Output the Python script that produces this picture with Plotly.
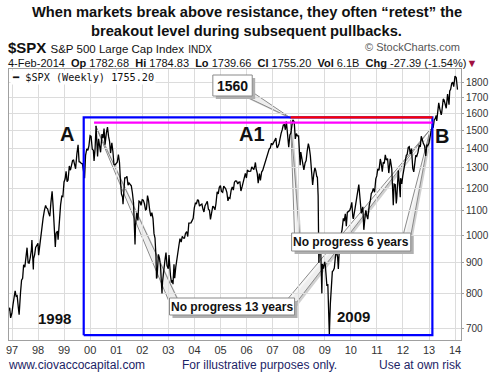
import plotly.graph_objects as go

# ---------------- data (weekly-ish closes) ----------------
dates = [
    "1996-11-22", "1996-11-29", "1996-12-13", "1996-12-31",
    "1997-01-15", "1997-01-31", "1997-02-14", "1997-02-28", "1997-03-14", "1997-03-31", "1997-04-11", "1997-04-30",
    "1997-05-15", "1997-05-30", "1997-06-13", "1997-06-30", "1997-07-15", "1997-07-31", "1997-08-15", "1997-08-29",
    "1997-09-15", "1997-09-30", "1997-10-07", "1997-10-27", "1997-10-31", "1997-11-14", "1997-11-28", "1997-12-15", "1997-12-31",
    "1998-01-09", "1998-01-30", "1998-02-13", "1998-02-27", "1998-03-13", "1998-03-31", "1998-04-17", "1998-04-30",
    "1998-05-15", "1998-05-29", "1998-06-15", "1998-06-30", "1998-07-17", "1998-07-31", "1998-08-14", "1998-08-31",
    "1998-09-11", "1998-09-30", "1998-10-09", "1998-10-30", "1998-11-13", "1998-11-30", "1998-12-15", "1998-12-31",
    "1999-01-15", "1999-01-29", "1999-02-12", "1999-02-26", "1999-03-15", "1999-03-31", "1999-04-16", "1999-04-30",
    "1999-05-14", "1999-05-28", "1999-06-11", "1999-06-30", "1999-07-16", "1999-07-30", "1999-08-13", "1999-08-31",
    "1999-09-15", "1999-09-30", "1999-10-15", "1999-10-29", "1999-11-15", "1999-11-30", "1999-12-15", "1999-12-31",
    "2000-01-14", "2000-01-31", "2000-02-15", "2000-02-25", "2000-03-10", "2000-03-24", "2000-04-14", "2000-04-28",
    "2000-05-12", "2000-05-26", "2000-06-15", "2000-06-30", "2000-07-14", "2000-07-28", "2000-08-15", "2000-08-31",
    "2000-09-15", "2000-09-29", "2000-10-13", "2000-10-31", "2000-11-15", "2000-11-30", "2000-12-15", "2000-12-29",
    "2001-01-15", "2001-01-31", "2001-02-15", "2001-02-28", "2001-03-15", "2001-03-30", "2001-04-06", "2001-04-30",
    "2001-05-15", "2001-05-31", "2001-06-15", "2001-06-29", "2001-07-13", "2001-07-31", "2001-08-15", "2001-08-31",
    "2001-09-21", "2001-09-28", "2001-10-15", "2001-10-31", "2001-11-15", "2001-11-30", "2001-12-14", "2001-12-31",
    "2002-01-15", "2002-01-31", "2002-02-15", "2002-02-28", "2002-03-15", "2002-03-28", "2002-04-15", "2002-04-30",
    "2002-05-15", "2002-05-31", "2002-06-14", "2002-06-28", "2002-07-12", "2002-07-19", "2002-07-26", "2002-08-15",
    "2002-08-30", "2002-09-13", "2002-09-27", "2002-10-04", "2002-10-11", "2002-10-31", "2002-11-15", "2002-11-29",
    "2002-12-13", "2002-12-31",
    "2003-01-10", "2003-01-31", "2003-02-14", "2003-02-28", "2003-03-07", "2003-03-21", "2003-03-31", "2003-04-15",
    "2003-04-30", "2003-05-15", "2003-05-30", "2003-06-13", "2003-06-30", "2003-07-15", "2003-07-31", "2003-08-15",
    "2003-08-29", "2003-09-15", "2003-09-30", "2003-10-15", "2003-10-31", "2003-11-14", "2003-11-28", "2003-12-15", "2003-12-31",
    "2004-01-15", "2004-01-30", "2004-02-13", "2004-02-27", "2004-03-12", "2004-03-31", "2004-04-15", "2004-04-30",
    "2004-05-14", "2004-05-28", "2004-06-15", "2004-06-30", "2004-07-15", "2004-07-30", "2004-08-13", "2004-08-31",
    "2004-09-15", "2004-09-30", "2004-10-15", "2004-10-29", "2004-11-15", "2004-11-30", "2004-12-15", "2004-12-31",
    "2005-01-14", "2005-01-31", "2005-02-15", "2005-02-28", "2005-03-15", "2005-03-31", "2005-04-15", "2005-04-29",
    "2005-05-13", "2005-05-31", "2005-06-15", "2005-06-30", "2005-07-15", "2005-07-29", "2005-08-15", "2005-08-31",
    "2005-09-15", "2005-09-30", "2005-10-14", "2005-10-31", "2005-11-15", "2005-11-30", "2005-12-15", "2005-12-30",
    "2006-01-13", "2006-01-31", "2006-02-15", "2006-02-28", "2006-03-15", "2006-03-31", "2006-04-13", "2006-04-28",
    "2006-05-05", "2006-05-15", "2006-05-31", "2006-06-13", "2006-06-30", "2006-07-14", "2006-07-31", "2006-08-15",
    "2006-08-31", "2006-09-15", "2006-09-29", "2006-10-13", "2006-10-31", "2006-11-15", "2006-11-30", "2006-12-15", "2006-12-29",
    "2007-01-12", "2007-01-31", "2007-02-16", "2007-02-28", "2007-03-09", "2007-03-30", "2007-04-13", "2007-04-30",
    "2007-05-15", "2007-05-31", "2007-06-15", "2007-06-29", "2007-07-13", "2007-07-31", "2007-08-15", "2007-08-31",
    "2007-09-14", "2007-09-28", "2007-10-12", "2007-10-31", "2007-11-15", "2007-11-30", "2007-12-14", "2007-12-31",
    "2008-01-11", "2008-01-22", "2008-01-31", "2008-02-15", "2008-02-29", "2008-03-14", "2008-03-31", "2008-04-15",
    "2008-04-30", "2008-05-16", "2008-05-30", "2008-06-13", "2008-06-30", "2008-07-15", "2008-07-31", "2008-08-15",
    "2008-08-29", "2008-09-12", "2008-09-19", "2008-09-30", "2008-10-10", "2008-10-17", "2008-10-31", "2008-11-07",
    "2008-11-21", "2008-11-28", "2008-12-12", "2008-12-31",
    "2009-01-09", "2009-01-23", "2009-01-30", "2009-02-13", "2009-02-27", "2009-03-06", "2009-03-20", "2009-03-31",
    "2009-04-17", "2009-04-30", "2009-05-15", "2009-05-29", "2009-06-12", "2009-06-30", "2009-07-10", "2009-07-31",
    "2009-08-14", "2009-08-31", "2009-09-18", "2009-09-30", "2009-10-16", "2009-10-30", "2009-11-13", "2009-11-30",
    "2009-12-18", "2009-12-31",
    "2010-01-15", "2010-01-29", "2010-02-05", "2010-02-26", "2010-03-15", "2010-03-31", "2010-04-23", "2010-04-30",
    "2010-05-14", "2010-05-28", "2010-06-18", "2010-07-02", "2010-07-16", "2010-07-30", "2010-08-13", "2010-08-27",
    "2010-09-17", "2010-09-30", "2010-10-15", "2010-10-29", "2010-11-12", "2010-11-30", "2010-12-17", "2010-12-31",
    "2011-01-14", "2011-01-31", "2011-02-18", "2011-02-28", "2011-03-18", "2011-03-31", "2011-04-15", "2011-04-29",
    "2011-05-13", "2011-05-31", "2011-06-17", "2011-06-30", "2011-07-08", "2011-07-29", "2011-08-12", "2011-08-19",
    "2011-08-31", "2011-09-16", "2011-09-30", "2011-10-07", "2011-10-28", "2011-11-25", "2011-11-30", "2011-12-16", "2011-12-30",
    "2012-01-13", "2012-01-31", "2012-02-17", "2012-02-29", "2012-03-16", "2012-03-30", "2012-04-13", "2012-04-30",
    "2012-05-18", "2012-06-01", "2012-06-15", "2012-06-29", "2012-07-13", "2012-07-31", "2012-08-17", "2012-08-31",
    "2012-09-14", "2012-09-28", "2012-10-12", "2012-10-31", "2012-11-16", "2012-11-30", "2012-12-14", "2012-12-31",
    "2013-01-18", "2013-01-31", "2013-02-15", "2013-02-28", "2013-03-15", "2013-03-28", "2013-04-12", "2013-04-19",
    "2013-04-30", "2013-05-17", "2013-05-31", "2013-06-21", "2013-06-28", "2013-07-19", "2013-07-31", "2013-08-16",
    "2013-08-30", "2013-09-18", "2013-09-30", "2013-10-08", "2013-10-18", "2013-10-31", "2013-11-15", "2013-11-29",
    "2013-12-13", "2013-12-31",
    "2014-01-17", "2014-01-31", "2014-02-04",
]
closes = [
    748, 757, 728, 741,
    766, 786, 808, 791, 793, 757, 737, 801, 842, 848, 893, 885, 918, 954, 900, 899, 920, 947, 983, 877, 915, 928, 955, 963, 970,
    927, 980, 1020, 1049, 1069, 1102, 1123, 1112, 1108, 1091, 1077, 1134, 1186, 1121, 1062, 957, 1009, 1017, 984, 1099, 1125, 1164, 1162, 1229,
    1243, 1280, 1230, 1238, 1307, 1286, 1319, 1335, 1337, 1302, 1293, 1373, 1418, 1329, 1327, 1320, 1318, 1283, 1247, 1362, 1396, 1389, 1413, 1469,
    1465, 1394, 1389, 1333, 1395, 1527, 1356, 1452, 1421, 1378, 1478, 1455, 1510, 1419, 1484, 1518, 1465, 1437, 1374, 1429, 1382, 1315, 1312, 1320,
    1326, 1366, 1326, 1240, 1173, 1160, 1128, 1249, 1249, 1256, 1214, 1224, 1215, 1211, 1179, 1134, 966, 1041, 1090, 1060, 1142, 1139, 1123, 1148,
    1146, 1130, 1104, 1107, 1166, 1147, 1102, 1077, 1092, 1067, 1007, 990, 921, 847, 852, 930, 916, 889, 827, 800, 835, 886, 910, 936, 890, 880,
    927, 856, 834, 841, 829, 895, 848, 885, 917, 946, 964, 988, 975, 997, 990, 990, 1008, 1015, 996, 1049, 1051, 1050, 1058, 1068, 1112,
    1133, 1131, 1146, 1145, 1120, 1126, 1129, 1107, 1095, 1121, 1133, 1141, 1107, 1102, 1064, 1104, 1120, 1115, 1104, 1130, 1183, 1174, 1204, 1212,
    1185, 1181, 1210, 1204, 1197, 1181, 1143, 1157, 1154, 1192, 1206, 1191, 1228, 1234, 1233, 1220, 1228, 1229, 1187, 1207, 1231, 1249, 1270, 1248,
    1287, 1280, 1280, 1281, 1303, 1295, 1289, 1311, 1325, 1294, 1270, 1223, 1270, 1236, 1277, 1285, 1304, 1320, 1336, 1366, 1378, 1396, 1401, 1427, 1418,
    1430, 1438, 1456, 1407, 1402, 1421, 1453, 1482, 1502, 1531, 1533, 1503, 1552, 1455, 1406, 1474, 1484, 1527, 1561, 1549, 1451, 1481, 1468, 1468,
    1401, 1311, 1379, 1349, 1331, 1288, 1323, 1335, 1386, 1425, 1400, 1360, 1280, 1215, 1267, 1298, 1283, 1252, 1255, 1166, 899, 940, 969, 930,
    800, 896, 880, 903,
    890, 832, 826, 827, 735, 683, 769, 798, 870, 873, 882, 919, 946, 919, 879, 987, 1005, 1021, 1068, 1057, 1087, 1036, 1093, 1096, 1102, 1115,
    1136, 1074, 1066, 1104, 1150, 1169, 1217, 1187, 1135, 1089, 1117, 1022, 1065, 1102, 1079, 1065, 1125, 1141, 1176, 1183, 1199, 1181, 1244, 1258,
    1293, 1286, 1343, 1327, 1279, 1326, 1320, 1364, 1338, 1345, 1272, 1321, 1344, 1292, 1179, 1124, 1219, 1216, 1131, 1155, 1285, 1159, 1247, 1220, 1258,
    1289, 1312, 1362, 1366, 1404, 1408, 1370, 1398, 1295, 1278, 1343, 1362, 1357, 1379, 1418, 1407, 1466, 1441, 1428, 1412, 1359, 1416, 1413, 1426,
    1486, 1498, 1520, 1515, 1561, 1569, 1588, 1555, 1598, 1667, 1631, 1592, 1606, 1692, 1686, 1655, 1633, 1725, 1682, 1656, 1745, 1757, 1798, 1806,
    1775, 1848,
    1839, 1783, 1755,
]

y_ticks = [700, 800, 900, 1000, 1100, 1200, 1300, 1400, 1500, 1600, 1700, 1800]
x_tick_dates = [f"{y}-01-01" for y in range(1997, 2015)]
x_tick_labels = ["97", "98", "99", "00", "01", "02", "03", "04", "05", "06", "07", "08", "09",
                 "10", "11", "12", "13", "14"]

# reference levels
peak_2007 = 1576       # red line / top of blue box
peak_2000 = 1545       # magenta line
box_low = 681          # bottom of blue box
box_start, box_end = "1999-10-03", "2013-02-17"
red_start = "2007-09-10"
mag_start = "2000-02-25"

# ---------------- figure ----------------
W, H = 495, 378
L, R, T, B = 6, 30, 69, 38
PW, PH = W - L - R, H - T - B


def px(x):
    return (x - L) / PW


def py(y):
    return (H - B - y) / PH


FONT = "Liberation Sans, Arial, sans-serif"
fig = go.Figure()

fig.add_trace(go.Scatter(x=dates, y=closes, mode="lines",
                         line=dict(color="black", width=1.3), hoverinfo="skip"))

# blue box
fig.add_trace(go.Scatter(x=[box_start, box_start, box_end, box_end, box_start],
                         y=[box_low, peak_2007, peak_2007, box_low, box_low],
                         mode="lines", line=dict(color="#0000ff", width=2.2), hoverinfo="skip"))
# red and magenta resistance lines
fig.add_trace(go.Scatter(x=[red_start, box_end], y=[peak_2007, peak_2007], mode="lines",
                         line=dict(color="#ff0000", width=2.2), hoverinfo="skip"))
fig.add_trace(go.Scatter(x=[mag_start, box_end], y=[peak_2000, peak_2000], mode="lines",
                         line=dict(color="#ff00ff", width=2.2), hoverinfo="skip"))

shapes = []


def wedge(tip, b1, b2):
    # shadow
    shapes.append(dict(type="path", xref="paper", yref="paper", layer="between",
                       path=f"M{px(tip[0]+2)},{py(tip[1]+2)} L{px(b1[0]+2)},{py(b1[1]+2)} L{px(b2[0]+2)},{py(b2[1]+2)} Z",
                       fillcolor="rgba(170,170,170,0.55)", line=dict(width=0)))
    shapes.append(dict(type="path", xref="paper", yref="paper", layer="between",
                       path=f"M{px(tip[0])},{py(tip[1])} L{px(b1[0])},{py(b1[1])} L{px(b2[0])},{py(b2[1])} Z",
                       fillcolor="rgba(245,245,245,0.8)", line=dict(color="#8a8a8a", width=1)))


def box(x0, y0, x1, y1):
    shapes.append(dict(type="rect", xref="paper", yref="paper", layer="above",
                       x0=px(x0 + 3), x1=px(x1 + 3), y0=py(y0 + 3), y1=py(y1 + 3),
                       fillcolor="#b0b0b0", line=dict(width=0)))
    shapes.append(dict(type="rect", xref="paper", yref="paper", layer="above",
                       x0=px(x0), x1=px(x1), y0=py(y0), y1=py(y1),
                       fillcolor="white", line=dict(color="#8a8a8a", width=1)))


# pointers
wedge((292, 118), (250, 90), (243, 95))
wedge((94, 126), (177, 299), (170, 305))
wedge((434, 129), (289, 299), (296, 305))
wedge((292, 120), (296, 236), (301, 236))
wedge((434, 129), (406, 236), (413, 241))
# callout boxes
box(213, 75, 253, 96)
box(169, 298, 296, 315)
box(293, 233, 414, 251)

fig.update_layout(shapes=shapes)

ann = []


def text(x, y, s, size=11, color="#222", xanchor="center", bold=False, family=FONT, bg=None):
    d = dict(x=px(x), y=py(y), xref="paper", yref="paper", text=(f"<b>{s}</b>" if bold else s),
             showarrow=False, xanchor=xanchor, yanchor="middle",
             font=dict(size=size, color=color, family=family))
    if bg:
        d["bgcolor"] = bg
    ann.append(d)


text(247.5, 12, "When markets break above resistance, they often “retest” the", 14.7, "#111", bold=True)
text(247.5, 31, "breakout level during subsequent pullbacks.", 14.7, "#111", bold=True)
text(3, 47, "<b>$SPX</b> <span style='font-size:11.5px'>S&P 500 Large Cap Index</span>"
            " <span style='font-size:10px'>INDX</span>", 15, "#111", xanchor="left")
text(466, 47, "© StockCharts.com", 11, "#555", xanchor="right")
text(3, 63, "4-Feb-2014  <b>Op</b> 1782.68  <b>Hi</b> 1784.83  <b>Lo</b> 1739.66  <b>Cl</b> 1755.20"
            "  <b>Vol</b> 6.1B  <b>Chg</b> -27.39 (-1.54%)<span style='color:#a01040'>▼</span>",
     11, "#111", xanchor="left")
text(7, 77, "<b>━</b> $SPX (Weekly) 1755.20", 10.2, "#111", xanchor="left",
     family="DejaVu Sans Mono, monospace", bg="white")

text(65, 134, "A", 20, "#111", bold=True)
text(253, 134, "A1", 20, "#111", bold=True)
text(446, 136, "B", 20, "#111", bold=True)
text(52, 318, "1998", 15, "#111", bold=True)
text(356, 316, "2009", 15, "#111", bold=True)

text(233, 86, "1560", 14, "#111", bold=True)
text(232, 307, "No progress 13 years", 12, "#111", bold=True)
text(353, 242, "No progress 6 years", 12, "#111", bold=True)

text(3, 365, "www.ciovaccocapital.com", 12, "#1c2466", xanchor="left")
text(180, 365, "For illustrative purposes only.", 12, "#1c2466", xanchor="left")
text(468, 365, "Use at own risk", 12, "#1c2466", xanchor="right")

fig.update_layout(
    annotations=ann,
    width=W, height=H, autosize=False,
    margin=dict(l=L, r=R, t=T, b=B, pad=0),
    paper_bgcolor="white", plot_bgcolor="white",
    showlegend=False,
    font=dict(family=FONT, size=11, color="#333"),
    xaxis=dict(type="date", range=["1996-11-20", "2014-03-25"],
               tickvals=x_tick_dates, ticktext=x_tick_labels,
               showgrid=True, gridcolor="#dcdcdc", gridwidth=1,
               showline=True, linecolor="#a0a0a0", mirror=True, linewidth=1,
               ticks="", tickfont=dict(size=11, color="#333"), zeroline=False),
    yaxis=dict(type="log", range=[2.825, 3.2787], side="right",
               tickvals=y_ticks, ticktext=[str(v) for v in y_ticks],
               showgrid=True, gridcolor="#dcdcdc", gridwidth=1,
               showline=True, linecolor="#a0a0a0", mirror=True, linewidth=1,
               ticks="outside", ticklen=2, tickcolor="#a0a0a0",
               tickfont=dict(size=10, color="#333"), zeroline=False),
)

fig.write_html("out.html", config={"displayModeBar": False},
               post_script="document.body.style.margin='0px';document.body.style.padding='0px';")
